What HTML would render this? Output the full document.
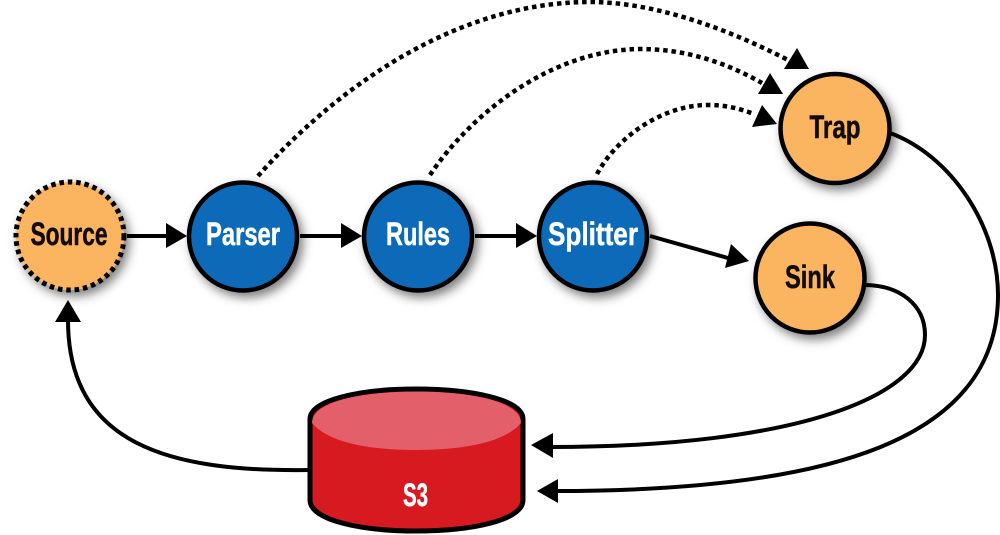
<!DOCTYPE html>
<html><head><meta charset="utf-8"><style>html,body{margin:0;padding:0;background:#fff}svg{display:block}
text{font-family:"Liberation Sans Narrow","Liberation Sans",sans-serif;font-weight:bold;text-anchor:middle}</style></head>
<body>
<svg width="1000" height="535" viewBox="0 0 1000 535" xmlns="http://www.w3.org/2000/svg">
<defs><filter id="s" x="-25%" y="-25%" width="160%" height="160%"><feDropShadow dx="4" dy="5" stdDeviation="5" flood-color="#000" flood-opacity=".5"/></filter></defs>
<g fill="none" stroke="#000" stroke-width="4.5" stroke-dasharray="4.5 3.9">
<path d="M258 176C330 95 450 2 590 2C650 2 720 25 788 60"/>
<path d="M430 175C470 115 550 50 640 49C685 49 725 62 762 83"/>
<path d="M597 174C615 140 660 105 708 105C725 105 738 108 754 114"/>
</g>
<g fill="none" stroke="#000" stroke-width="4">
<path d="M127 236H168M300 236H342M475 236H517"/>
<path d="M650 236L735 260"/>
<path d="M890 133C950 155 998 225 998 295C998 440 830 491 555 491"/>
<path d="M864 285C900 285 925 305 925 335C925 395 800 447 550 447"/>
<path d="M308 470C170 472 68 445 68 320"/>
</g>
<g fill="#000">
<path d="M797 48L784 69L809 69Z"/><path d="M770 73L758 94L783 94Z"/><path d="M762 105L752 127L777 124Z"/>
<path d="M187 236L166 223V248Z"/><path d="M362 236L341 223V248Z"/><path d="M537 236L516 223V248Z"/>
<path d="M749 261L731 244L725 268Z"/>
<path d="M531 445L553 433V458Z"/><path d="M537 491L558 479V503Z"/>
<path d="M68 300L55 322H81Z"/>
</g>
<g filter="url(#s)">
<circle cx="70" cy="236" r="54" fill="#fbb45e" stroke="#000" stroke-width="5" stroke-dasharray="4.5 3.9"/>
<circle cx="243" cy="236.500" r="54" fill="#0b6bb8" stroke="#000" stroke-width="4.500"/>
<circle cx="418" cy="236.500" r="54" fill="#0b6bb8" stroke="#000" stroke-width="4.500"/>
<circle cx="593" cy="236.500" r="54" fill="#0b6bb8" stroke="#000" stroke-width="4.500"/>
<circle cx="835" cy="128.500" r="54.500" fill="#fbb45e" stroke="#000" stroke-width="4.500"/>
<circle cx="810" cy="278" r="54.500" fill="#fbb45e" stroke="#000" stroke-width="4.500"/>
</g>
<path d="M310 419C310 400 360 389 416 389C473 389 523 400 523 419V500C523 520 473 531 416 531C360 531 310 520 310 500Z" fill="#d71920" stroke="#000" stroke-width="5"/>
<path d="M312 423C312 402 360 391.500 416 391.500C473 391.500 521 402 521 423C505 442 465 450 416 450C367 450 328 442 312 423Z" fill="#e3606a"/>
<g font-size="32" stroke-width=".5">
<text x="69" y="245" textLength="77" lengthAdjust="spacingAndGlyphs" fill="#120c08" stroke="#120c08">Source</text>
<text x="243" y="245" textLength="74" lengthAdjust="spacingAndGlyphs" fill="#fff" stroke="#fff">Parser</text>
<text x="418" y="245" textLength="64" lengthAdjust="spacingAndGlyphs" fill="#fff" stroke="#fff">Rules</text>
<text x="593" y="245" textLength="90" lengthAdjust="spacingAndGlyphs" fill="#fff" stroke="#fff">Splitter</text>
<text x="835" y="138" textLength="51" lengthAdjust="spacingAndGlyphs" fill="#120c08" stroke="#120c08">Trap</text>
<text x="810" y="288" textLength="50" lengthAdjust="spacingAndGlyphs" fill="#120c08" stroke="#120c08">Sink</text>
<text x="415.500" y="506" textLength="25" lengthAdjust="spacingAndGlyphs" fill="#fff" stroke="#fff">S3</text>
</g>
</svg>
</body></html>
